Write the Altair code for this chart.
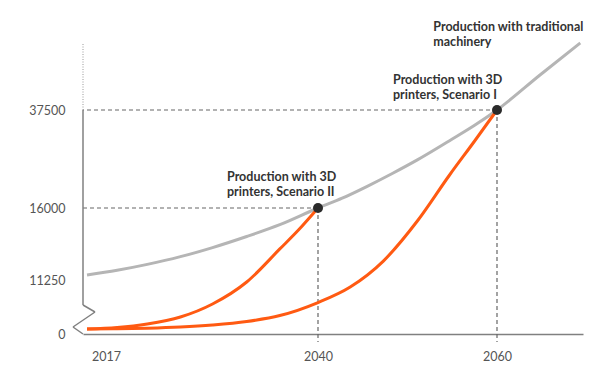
import altair as alt
import pandas as pd

# ---- data ----
years_trad = [2017, 2020, 2023, 2026.3, 2029.5, 2032.9, 2036.2, 2040, 2042.7, 2045.5,
              2048.3, 2051.1, 2054.7, 2057.5, 2060, 2064.8, 2069.3]
vals_trad = [11580, 11890, 12280, 12790, 13390, 14120, 14900, 16000, 18150, 20760,
             23570, 26550, 30770, 34140, 37500, 45180, 52200]

years_s2 = [2017, 2020, 2023, 2026.3, 2029.5, 2032.9, 2036.2, 2038.1, 2040]
vals_s2 = [1040, 1350, 2080, 3540, 6250, 10830, 13300, 14580, 16000]

years_s1 = [2017, 2020, 2023, 2026.3, 2029.5, 2032.9, 2036.2, 2040, 2043.6, 2047.3,
            2051.1, 2054.7, 2057.5, 2060]
vals_s1 = [1040, 1080, 1210, 1460, 1880, 2600, 3850, 6560, 9790, 12500,
           15140, 23240, 30700, 37500]

point_years = [2040, 2060]
point_vals = [16000, 37500]

x_ticks = [2017, 2040, 2060]
y_ticks = [0, 11250, 16000, 37500]

label_trad = "Production with traditional\nmachinery"
label_s1 = "Production with 3D\nprinters, Scenario I"
label_s2 = "Production with 3D\nprinters, Scenario II"

# ---- tables ----
df_trad = pd.DataFrame({"year": years_trad, "value": vals_trad})
df_s2 = pd.DataFrame({"year": years_s2, "value": vals_s2})
df_s1 = pd.DataFrame({"year": years_s1, "value": vals_s1})
df_pts = pd.DataFrame({"year": point_years, "value": point_vals})

W, H = 500, 326
FONT = "Lato"
ORANGE = "#FF5A12"
GRAY = "#b5b5b5"
AXIS = "#808080"
DASH = "#666666"

xscale = alt.Scale(domain=[2016.6, 2040, 2060, 2069.6], range=[0, 235, 414, 500],
                   nice=False, zero=False)
yscale = alt.Scale(domain=[0, 11250, 16000, 37500], range=[326, 272, 200, 102],
                   nice=False, zero=False)

xaxis = alt.Axis(values=x_ticks, ticks=False, grid=False, title=None, format="d",
                 domainColor=AXIS, domainWidth=1.5, labelPadding=16,
                 labelFont=FONT, labelFontSize=12.5, labelColor="#555555",
                 labelFlush=False, labelOverlap=False,
                 labelOffset={"condition": {"test": "datum.value == 2017", "value": 19}, "value": 0})
yaxis = alt.Axis(values=y_ticks, ticks=False, grid=False, domain=False, title=None, format="d",
                 labelPadding=18, labelFont=FONT, labelFontSize=12.5, labelColor="#555555",
                 labelOverlap=False)

X = alt.X("year:Q", scale=xscale, axis=xaxis)
Y = alt.Y("value:Q", scale=yscale, axis=yaxis)

# reference dashed lines
h_dash = alt.Chart(df_pts).mark_rule(color=DASH, strokeDash=[4, 3], strokeWidth=1.2).encode(
    x=X, x2=alt.value(0), y=Y)
v_dash = alt.Chart(df_pts).mark_rule(color=DASH, strokeDash=[4, 3], strokeWidth=1.2).encode(
    x=X, y=Y, y2=alt.value(334))

# y axis line with break
top_val = pd.DataFrame({"value": [37500]})
y_line = alt.Chart(top_val).mark_rule(color=AXIS, strokeWidth=1.5).encode(
    x=alt.value(0), y=Y, y2=alt.value(297))
y_dot = alt.Chart(top_val).mark_rule(color="#999999", strokeWidth=1, strokeDash=[1, 1.5]).encode(
    x=alt.value(0), y=Y, y2=alt.value(35))
zz1 = alt.Chart().mark_rule(color=AXIS, strokeWidth=1.5).encode(
    x=alt.value(0), x2=alt.value(12), y=alt.value(297), y2=alt.value(304))
zz2 = alt.Chart().mark_rule(color=AXIS, strokeWidth=1.5).encode(
    x=alt.value(12), x2=alt.value(-10), y=alt.value(304), y2=alt.value(319))
zz3 = alt.Chart().mark_rule(color=AXIS, strokeWidth=1.5).encode(
    x=alt.value(-10), x2=alt.value(0), y=alt.value(319), y2=alt.value(326))

trad = alt.Chart(df_trad).mark_line(color=GRAY, strokeWidth=3, interpolate="monotone").encode(x=X, y=Y)
s2 = alt.Chart(df_s2).mark_line(color=ORANGE, strokeWidth=3, interpolate="monotone").encode(x=X, y=Y)
s1 = alt.Chart(df_s1).mark_line(color=ORANGE, strokeWidth=3, interpolate="monotone").encode(x=X, y=Y)

pts = alt.Chart(df_pts).mark_circle(color="#2a2a2a", size=100, opacity=1).encode(x=X, y=Y)

def annot(year, value, text, dx, dy):
    d = pd.DataFrame({"year": [year], "value": [value], "t": [text]})
    return alt.Chart(d).mark_text(align="left", baseline="top", lineBreak="\n", lineHeight=15,
                                  font=FONT, fontSize=12.5, fontWeight="bold", color="#333333",
                                  dx=dx, dy=dy).encode(x=X, y=Y, text="t:N")

t2 = annot(point_years[0], point_vals[0], label_s2, -91, -37)
t1 = annot(point_years[1], point_vals[1], label_s1, -104, -36)
tt = annot(years_trad[-1], vals_trad[-1], label_trad, -147, -22)

chart = alt.layer(h_dash, v_dash, y_dot, y_line, zz1, zz2, zz3, trad, s2, s1, pts, t2, t1, tt).properties(
    width=W, height=H, autosize="none",
    padding={"left": 75, "top": 0, "right": 8, "bottom": 34},
    background="white",
).configure_view(stroke=None)

chart.save("out.html", embed_options={"renderer": "svg", "actions": False})
